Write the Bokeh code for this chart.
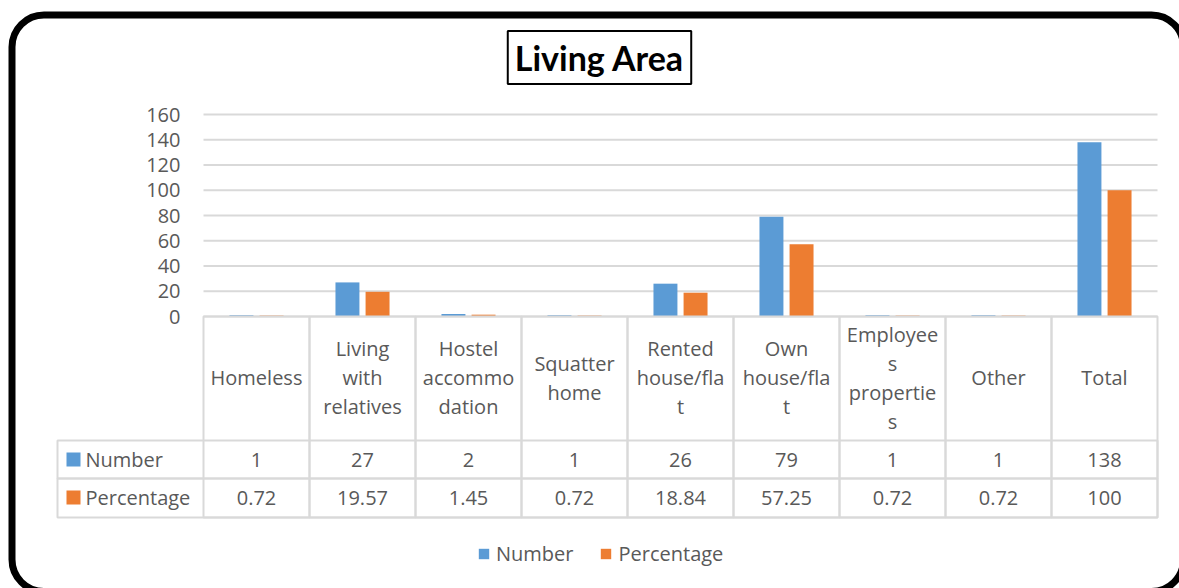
from bokeh.plotting import figure
from bokeh.models import (Range1d, FixedTicker, ColumnDataSource, Label,
                          BoxAnnotation, Legend, LegendItem)
from bokeh.core.properties import value
from bokeh.transform import dodge
from bokeh.embed import file_html
from bokeh.resources import INLINE

# ---------------- data ----------------
categories = ["Homeless", "Living with relatives", "Hostel accommodation", "Squatter home",
              "Rented house/flat", "Own house/flat", "Employees properties", "Other", "Total"]
header_labels = ["Homeless", "Living\nwith\nrelatives", "Hostel\naccommo\ndation", "Squatter\nhome",
                 "Rented\nhouse/fla\nt", "Own\nhouse/fla\nt", "Employee\ns\npropertie\ns", "Other", "Total"]
number = [1, 27, 2, 1, 26, 79, 1, 1, 138]
percentage = [0.72, 19.57, 1.45, 0.72, 18.84, 57.25, 0.72, 0.72, 100]
series_names = ["Number", "Percentage"]
y_ticks = [0, 20, 40, 60, 80, 100, 120, 140, 160]
title_text = "Living Area"

# ---------------- layout constants (pixels) ----------------
W, H = 1179, 588
FL, FR = 203, 1157          # plot area left / right
FT, Y0, FB = 114, 316, 517  # y=160, y=0, table bottom
BLUE, ORANGE = "#5b9bd5", "#ed7d31"
GRID = "#d9d9d9"
TXT = "#595959"
FONT = "Open Sans"
n = len(categories)
ppu_x = (FR - FL) / n
ppu_y = (Y0 - FT) / max(y_ticks)
LINE = 29 / ppu_y  # header line spacing in data units


def X(px):
    return (px - FL) / ppu_x


def Y(py):
    return (Y0 - py) / ppu_y


p = figure(width=W, height=H, x_range=Range1d(X(0), X(W)), y_range=Range1d(Y(H), Y(0)),
           min_border_left=0, min_border_right=0, min_border_top=0, min_border_bottom=0,
           output_backend="svg", toolbar_location=None)
p.outline_line_color = None
p.background_fill_color = "white"
p.border_fill_color = "white"
p.xaxis.visible = False
p.xgrid.visible = False
p.ygrid.visible = False

ticker = FixedTicker(ticks=y_ticks)
p.yaxis.ticker = ticker
p.yaxis.fixed_location = 0
p.yaxis.axis_line_color = None
p.yaxis.major_tick_line_color = None
p.yaxis.minor_tick_line_color = None
p.yaxis.major_tick_out = 0
p.yaxis.major_tick_in = 0
p.yaxis.major_label_standoff = 23
p.yaxis.major_label_text_font = FONT
p.yaxis.major_label_text_font_size = "20px"
p.yaxis.major_label_text_color = TXT

# horizontal gridlines over the plot area
p.segment(x0=[0] * len(y_ticks), x1=[n] * len(y_ticks), y0=y_ticks, y1=y_ticks,
          line_color=GRID, line_width=2)

src = ColumnDataSource(dict(
    xc=[i + 0.5 for i in range(n)],
    number=number,
    percentage=percentage,
    num_txt=[str(v) for v in number],
    pct_txt=["%g" % v for v in percentage],
    yn=[Y(459)] * n,
    yp=[Y(497)] * n,
))

rb = p.vbar(x=dodge("xc", -0.142), top="number", width=0.226, bottom=0, source=src,
            fill_color=BLUE, line_color=None)
ro = p.vbar(x=dodge("xc", 0.142), top="percentage", width=0.226, bottom=0, source=src,
            fill_color=ORANGE, line_color=None)

# ---------------- data table ----------------
for i in range(n):
    p.add_layout(BoxAnnotation(left=i, right=i + 1, top=0, bottom=Y(FB), fill_color=None,
                               line_color=GRID, line_alpha=1, line_width=2))
for (t, b) in [(Y(440), Y(478)), (Y(478), Y(FB))]:
    p.add_layout(BoxAnnotation(left=X(57), right=n, top=t, bottom=b, fill_color=None,
                               line_color=GRID, line_alpha=1, line_width=2))

# header: one text item per line, vertically centred in the header row
hx, hy, ht = [], [], []
for i, lab in enumerate(header_labels):
    lines = lab.split("\n")
    k = len(lines)
    for j, ln in enumerate(lines):
        hx.append(i + 0.5)
        hy.append(Y(377) - (j - (k - 1) / 2) * LINE)
        ht.append(ln)
hsrc = ColumnDataSource(dict(x=hx, y=hy, t=ht))

tstyle = dict(text_font=value(FONT), text_font_size="20px", text_color=TXT,
              text_align="center", text_baseline="middle")
p.text(x="x", y="y", text="t", source=hsrc, **tstyle)
p.text(x="xc", y="yn", text="num_txt", source=src, **tstyle)
p.text(x="xc", y="yp", text="pct_txt", source=src, **tstyle)

for name, col, cy in [(series_names[0], BLUE, 459), (series_names[1], ORANGE, 497)]:
    p.add_layout(BoxAnnotation(left=X(66), right=X(80), top=Y(cy - 7), bottom=Y(cy + 7),
                               fill_color=col, fill_alpha=1, line_color=None))
    p.add_layout(Label(x=X(85), y=Y(cy), text=name, text_font=FONT, text_font_size="20px",
                       text_color=TXT, text_align="left", text_baseline="middle"))

# ---------------- legend ----------------
legend = Legend(items=[LegendItem(label=series_names[0], renderers=[rb]),
                       LegendItem(label=series_names[1], renderers=[ro])],
                orientation="horizontal", location=(477, H - 567),
                glyph_width=13, glyph_height=13, label_standoff=6, spacing=26,
                padding=0, margin=0, border_line_alpha=0, background_fill_alpha=0,
                label_text_font=FONT, label_text_font_size="20px", label_text_color=TXT)
p.add_layout(legend)

# ---------------- title box ----------------
p.add_layout(Label(x=X(599), y=Y(57), text=title_text, text_font="Lato", text_font_style="bold",
                   text_font_size="34px", text_color="black", text_align="center",
                   text_baseline="middle", border_line_color="black", border_line_width=2,
                   background_fill_color="white",
                   padding=dict(left=7, right=7, top=6, bottom=6)))

# ---------------- outer rounded frame ----------------
p.add_layout(BoxAnnotation(left=X(11.5), right=X(1183), top=Y(14.5), bottom=Y(591),
                           fill_color=None, line_color="black", line_alpha=1, line_width=7,
                           border_radius=32))

open("out.html", "w").write(file_html(p, INLINE))
